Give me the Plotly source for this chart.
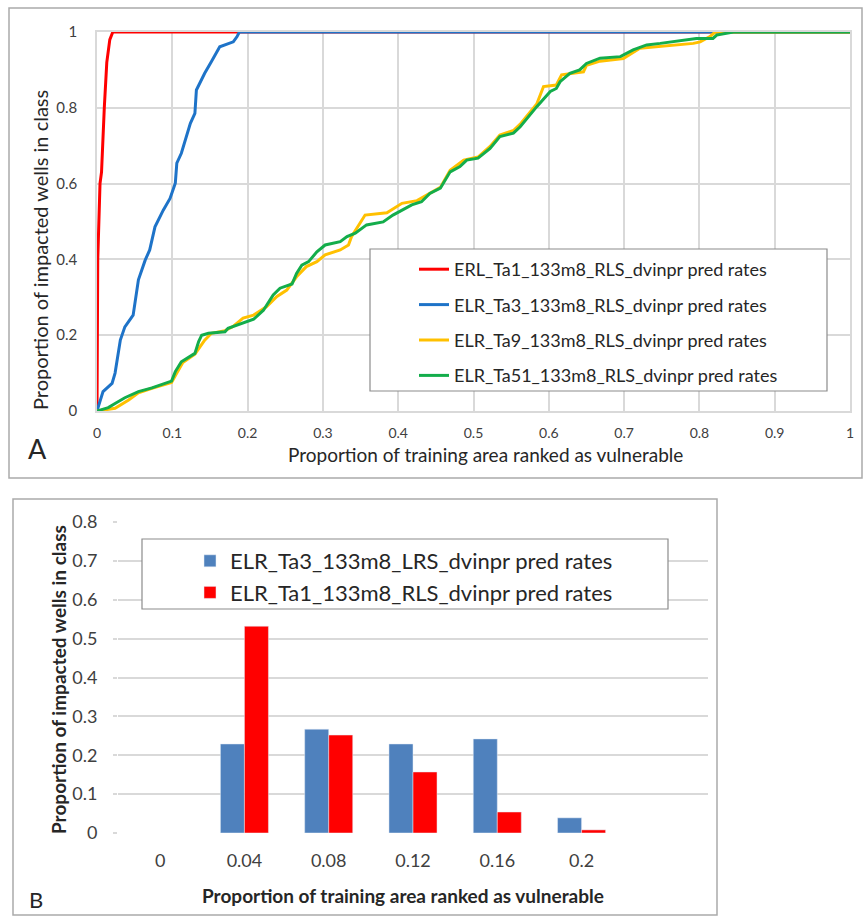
import plotly.graph_objects as go

W, H = 863, 918

# ---------------- Panel A data (cumulative prediction-rate curves) ----------------
red_x = [0, 0.001, 0.004, 0.006, 0.0097, 0.013, 0.017, 0.021, 1.0]
red_y = [0, 0.40, 0.60, 0.63, 0.80, 0.92, 0.98, 1.0, 1.0]

blue_x = [0, 0.008, 0.020, 0.024, 0.031, 0.037, 0.048, 0.055, 0.064, 0.070, 0.077, 0.088, 0.097,
          0.104, 0.106, 0.112, 0.124, 0.130, 0.132, 0.143, 0.152, 0.163, 0.181, 0.186, 0.189, 1.0]
blue_y = [0, 0.051, 0.073, 0.10, 0.187, 0.222, 0.253, 0.346, 0.398, 0.425, 0.486, 0.530, 0.561,
          0.601, 0.654, 0.68, 0.759, 0.785, 0.847, 0.891, 0.922, 0.961, 0.974, 0.988, 1.0, 1.0]

yellow_x = [0, 0.024, 0.042, 0.055, 0.073, 0.099, 0.106, 0.114, 0.130, 0.143, 0.152, 0.170, 0.180,
            0.194, 0.208, 0.225, 0.239, 0.252, 0.265, 0.278, 0.292, 0.303, 0.323, 0.334, 0.338,
            0.356, 0.385, 0.405, 0.425, 0.442, 0.456, 0.469, 0.487, 0.506, 0.522, 0.535, 0.553,
            0.562, 0.571, 0.584, 0.593, 0.610, 0.617, 0.646, 0.650, 0.668, 0.699, 0.721, 0.792,
            0.801, 0.814, 0.821, 1.0]
yellow_y = [0, 0.007, 0.029, 0.048, 0.060, 0.075, 0.100, 0.128, 0.150, 0.187, 0.205, 0.212, 0.222,
            0.245, 0.253, 0.275, 0.302, 0.319, 0.354, 0.381, 0.394, 0.412, 0.425, 0.438, 0.460,
            0.517, 0.523, 0.548, 0.555, 0.574, 0.590, 0.635, 0.662, 0.670, 0.698, 0.728, 0.740,
            0.757, 0.778, 0.810, 0.856, 0.860, 0.887, 0.895, 0.912, 0.923, 0.930, 0.957, 0.970,
            0.974, 0.988, 1.0, 1.0]

green_x = [0, 0.015, 0.024, 0.037, 0.055, 0.073, 0.099, 0.104, 0.112, 0.130, 0.135, 0.139, 0.148,
           0.170, 0.174, 0.194, 0.208, 0.221, 0.234, 0.243, 0.259, 0.265, 0.272, 0.281, 0.292,
           0.303, 0.323, 0.332, 0.343, 0.358, 0.380, 0.393, 0.405, 0.418, 0.431, 0.442, 0.456,
           0.469, 0.482, 0.491, 0.506, 0.522, 0.535, 0.553, 0.562, 0.571, 0.584, 0.602, 0.610,
           0.615, 0.628, 0.641, 0.650, 0.668, 0.695, 0.712, 0.730, 0.748, 0.796, 0.818, 0.823,
           0.845, 1.0]
green_y = [0, 0.009, 0.020, 0.035, 0.051, 0.061, 0.079, 0.104, 0.130, 0.152, 0.183, 0.200, 0.205,
           0.209, 0.218, 0.231, 0.242, 0.266, 0.306, 0.324, 0.335, 0.363, 0.385, 0.394, 0.420,
           0.438, 0.447, 0.460, 0.469, 0.491, 0.499, 0.517, 0.530, 0.544, 0.552, 0.574, 0.588,
           0.631, 0.645, 0.662, 0.667, 0.693, 0.724, 0.733, 0.750, 0.772, 0.803, 0.843, 0.851,
           0.869, 0.891, 0.900, 0.917, 0.931, 0.935, 0.953, 0.966, 0.970, 0.983, 0.983, 0.992,
           1.0, 1.0]

names_a = ["ERL_Ta1_133m8_RLS_dvinpr pred rates",
           "ELR_Ta3_133m8_RLS_dvinpr pred rates",
           "ELR_Ta9_133m8_RLS_dvinpr pred rates",
           "ELR_Ta51_133m8_RLS_dvinpr pred rates"]

# ---------------- Panel B data (class proportions) ----------------
categories_b = ["0", "0.04", "0.08", "0.12", "0.16", "0.2"]
ta3_vals = [None, 0.229, 0.267, 0.229, 0.242, 0.039]
ta1_vals = [None, 0.532, 0.252, 0.157, 0.054, 0.008]
names_b = ["ELR_Ta3_133m8_LRS_dvinpr pred rates",
           "ELR_Ta1_133m8_RLS_dvinpr pred rates"]


def px(x):
    return x / W


def py(y):
    return 1 - y / H


FONT = "Lato, 'Open Sans', sans-serif"
GRID = "#D9D9D9"
TXT = "#404040"
DARK = "#262626"

fig = go.Figure()

line_sets = [(red_x, red_y, "#FF0000"), (blue_x, blue_y, "#1E73C8"),
             (yellow_x, yellow_y, "#FFC000"), (green_x, green_y, "#13AD4B")]
for i, ((xs, ys, col), nm) in enumerate(zip(line_sets, names_a)):
    fig.add_trace(go.Scatter(x=xs, y=ys, mode="lines", name=nm,
                             line=dict(color=col, width=3),
                             xaxis="x", yaxis="y", legend="legend",
                             legendgroup="a%d" % i))

fig.add_trace(go.Bar(x=categories_b, y=ta3_vals, name=names_b[0], marker_color="#4F81BD",
                     xaxis="x2", yaxis="y2", legend="legend2", legendgroup="b0"))
fig.add_trace(go.Bar(x=categories_b, y=ta1_vals, name=names_b[1], marker_color="#FF0000",
                     xaxis="x2", yaxis="y2", legend="legend2", legendgroup="b1"))


def ann(text, x, y, size, angle=0):
    return dict(text=text, xref="paper", yref="paper", x=px(x), y=py(y), showarrow=False,
                xanchor="center", yanchor="middle", textangle=angle,
                font=dict(size=size, color=DARK, family=FONT))


fig.update_layout(
    width=W, height=H,
    margin=dict(l=0, r=0, t=0, b=0, pad=0, autoexpand=False),
    paper_bgcolor="white", plot_bgcolor="white",
    font=dict(family=FONT, color=TXT),
    barmode="group", bargap=0.43, bargroupgap=0,
    xaxis=dict(domain=[px(97), px(850)], range=[0, 1], dtick=0.1, tick0=0,
               showgrid=True, gridcolor=GRID, gridwidth=1.5, zeroline=False,
               showline=True, mirror=True, linecolor=GRID, linewidth=1.5,
               ticks="", ticklabelstandoff=8, tickfont=dict(size=14, color=TXT),
               anchor="y", automargin=False),
    yaxis=dict(domain=[py(411), py(32)], range=[0, 1], dtick=0.2, tick0=0,
               showgrid=True, gridcolor=GRID, gridwidth=1.5, zeroline=False,
               showline=True, mirror=True, linecolor=GRID, linewidth=1.5,
               ticks="", ticklabelstandoff=15, tickfont=dict(size=15, color=TXT),
               anchor="x", automargin=False),
    xaxis2=dict(domain=[px(118), px(708)], type="category", range=[-0.5, 6.5],
                showgrid=False, zeroline=False, showline=False, ticks="",
                ticklabelstandoff=15, tickfont=dict(size=18, color=TXT), anchor="y2",
                automargin=False),
    yaxis2=dict(domain=[py(833), py(522)], range=[0, 0.8], dtick=0.1, tick0=0,
                showgrid=True, gridcolor=GRID, gridwidth=1.5, zeroline=False,
                showline=False, ticks="outside", ticklen=4, tickcolor=GRID,
                tickwidth=1.5, ticklabelstandoff=12,
                tickfont=dict(size=18, color=TXT), anchor="x2", automargin=False),
    legend=dict(x=px(414), y=py(251), xanchor="left", yanchor="top",
                bgcolor="rgba(0,0,0,0)", borderwidth=0, traceorder="grouped",
                tracegroupgap=9, font=dict(size=18, color=DARK, family=FONT)),
    legend2=dict(x=px(190), y=py(540), xanchor="left", yanchor="top",
                 bgcolor="rgba(0,0,0,0)", borderwidth=0, traceorder="grouped",
                 tracegroupgap=0, font=dict(size=22, color=DARK, family=FONT)),
    shapes=[
        # panel frames
        dict(type="rect", xref="paper", yref="paper", x0=px(9), x1=px(862), y0=py(478), y1=py(8),
             line=dict(color="#ABABAB", width=1.5), layer="below"),
        dict(type="rect", xref="paper", yref="paper", x0=px(13), x1=px(717), y0=py(915), y1=py(499),
             line=dict(color="#ABABAB", width=1.5), layer="below"),
        # legend boxes
        dict(type="rect", xref="paper", yref="paper", x0=px(370), x1=px(827), y0=py(391), y1=py(249),
             line=dict(color="#8C8C8C", width=1.2), fillcolor="white", layer="above"),
        dict(type="rect", xref="paper", yref="paper", x0=px(142), x1=px(668), y0=py(609), y1=py(539),
             line=dict(color="#8C8C8C", width=1.2), fillcolor="white", layer="above"),
    ],
    annotations=[
        ann("Proportion of training area ranked as vulnerable", 485, 454, 19),
        ann("Proportion of impacted wells in class", 40, 250, 20, -90),
        ann("A", 37, 448, 27),
        ann("<b>Proportion of training area ranked as vulnerable</b>", 403, 895, 19),
        ann("<b>Proportion of impacted wells in class</b>", 58, 680, 19, -90),
        ann("B", 36, 899, 22),
    ],
)

fig.write_html("out.html", config={"displayModeBar": False},
               post_script="document.body.style.margin='0px';")
